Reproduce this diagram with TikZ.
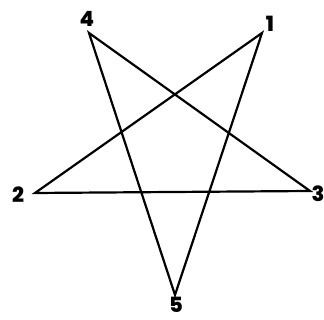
\documentclass[tikz,border=0pt]{standalone}
\usepackage{fontspec}
\setmainfont{Poppins}[BoldFont={Poppins ExtraBold}]
\begin{document}
\begin{tikzpicture}[x=1pt,y=1pt,
  edge/.style={line width=2.2pt, line join=miter},
  lbl/.style={font=\fontsize{21}{21}\selectfont\bfseries, inner sep=0pt}]
\useasboundingbox (0,0) rectangle (324,320);
\coordinate (v1) at (262,287);
\coordinate (v2) at (35,127);
\coordinate (v3) at (310,129);
\coordinate (v4) at (89,287);
\coordinate (v5) at (175,25);
\node[lbl] (l1) at (270,296) {1};
\node[lbl] (l2) at (18,125) {2};
\node[lbl] (l3) at (318,126) {3};
\node[lbl] (l4) at (87,301) {4};
\node[lbl] (l5) at (176,15) {5};
\draw[edge] (v1) -- (v2) -- (v3) -- (v4) -- (v5) -- cycle;
\end{tikzpicture}
\end{document}
